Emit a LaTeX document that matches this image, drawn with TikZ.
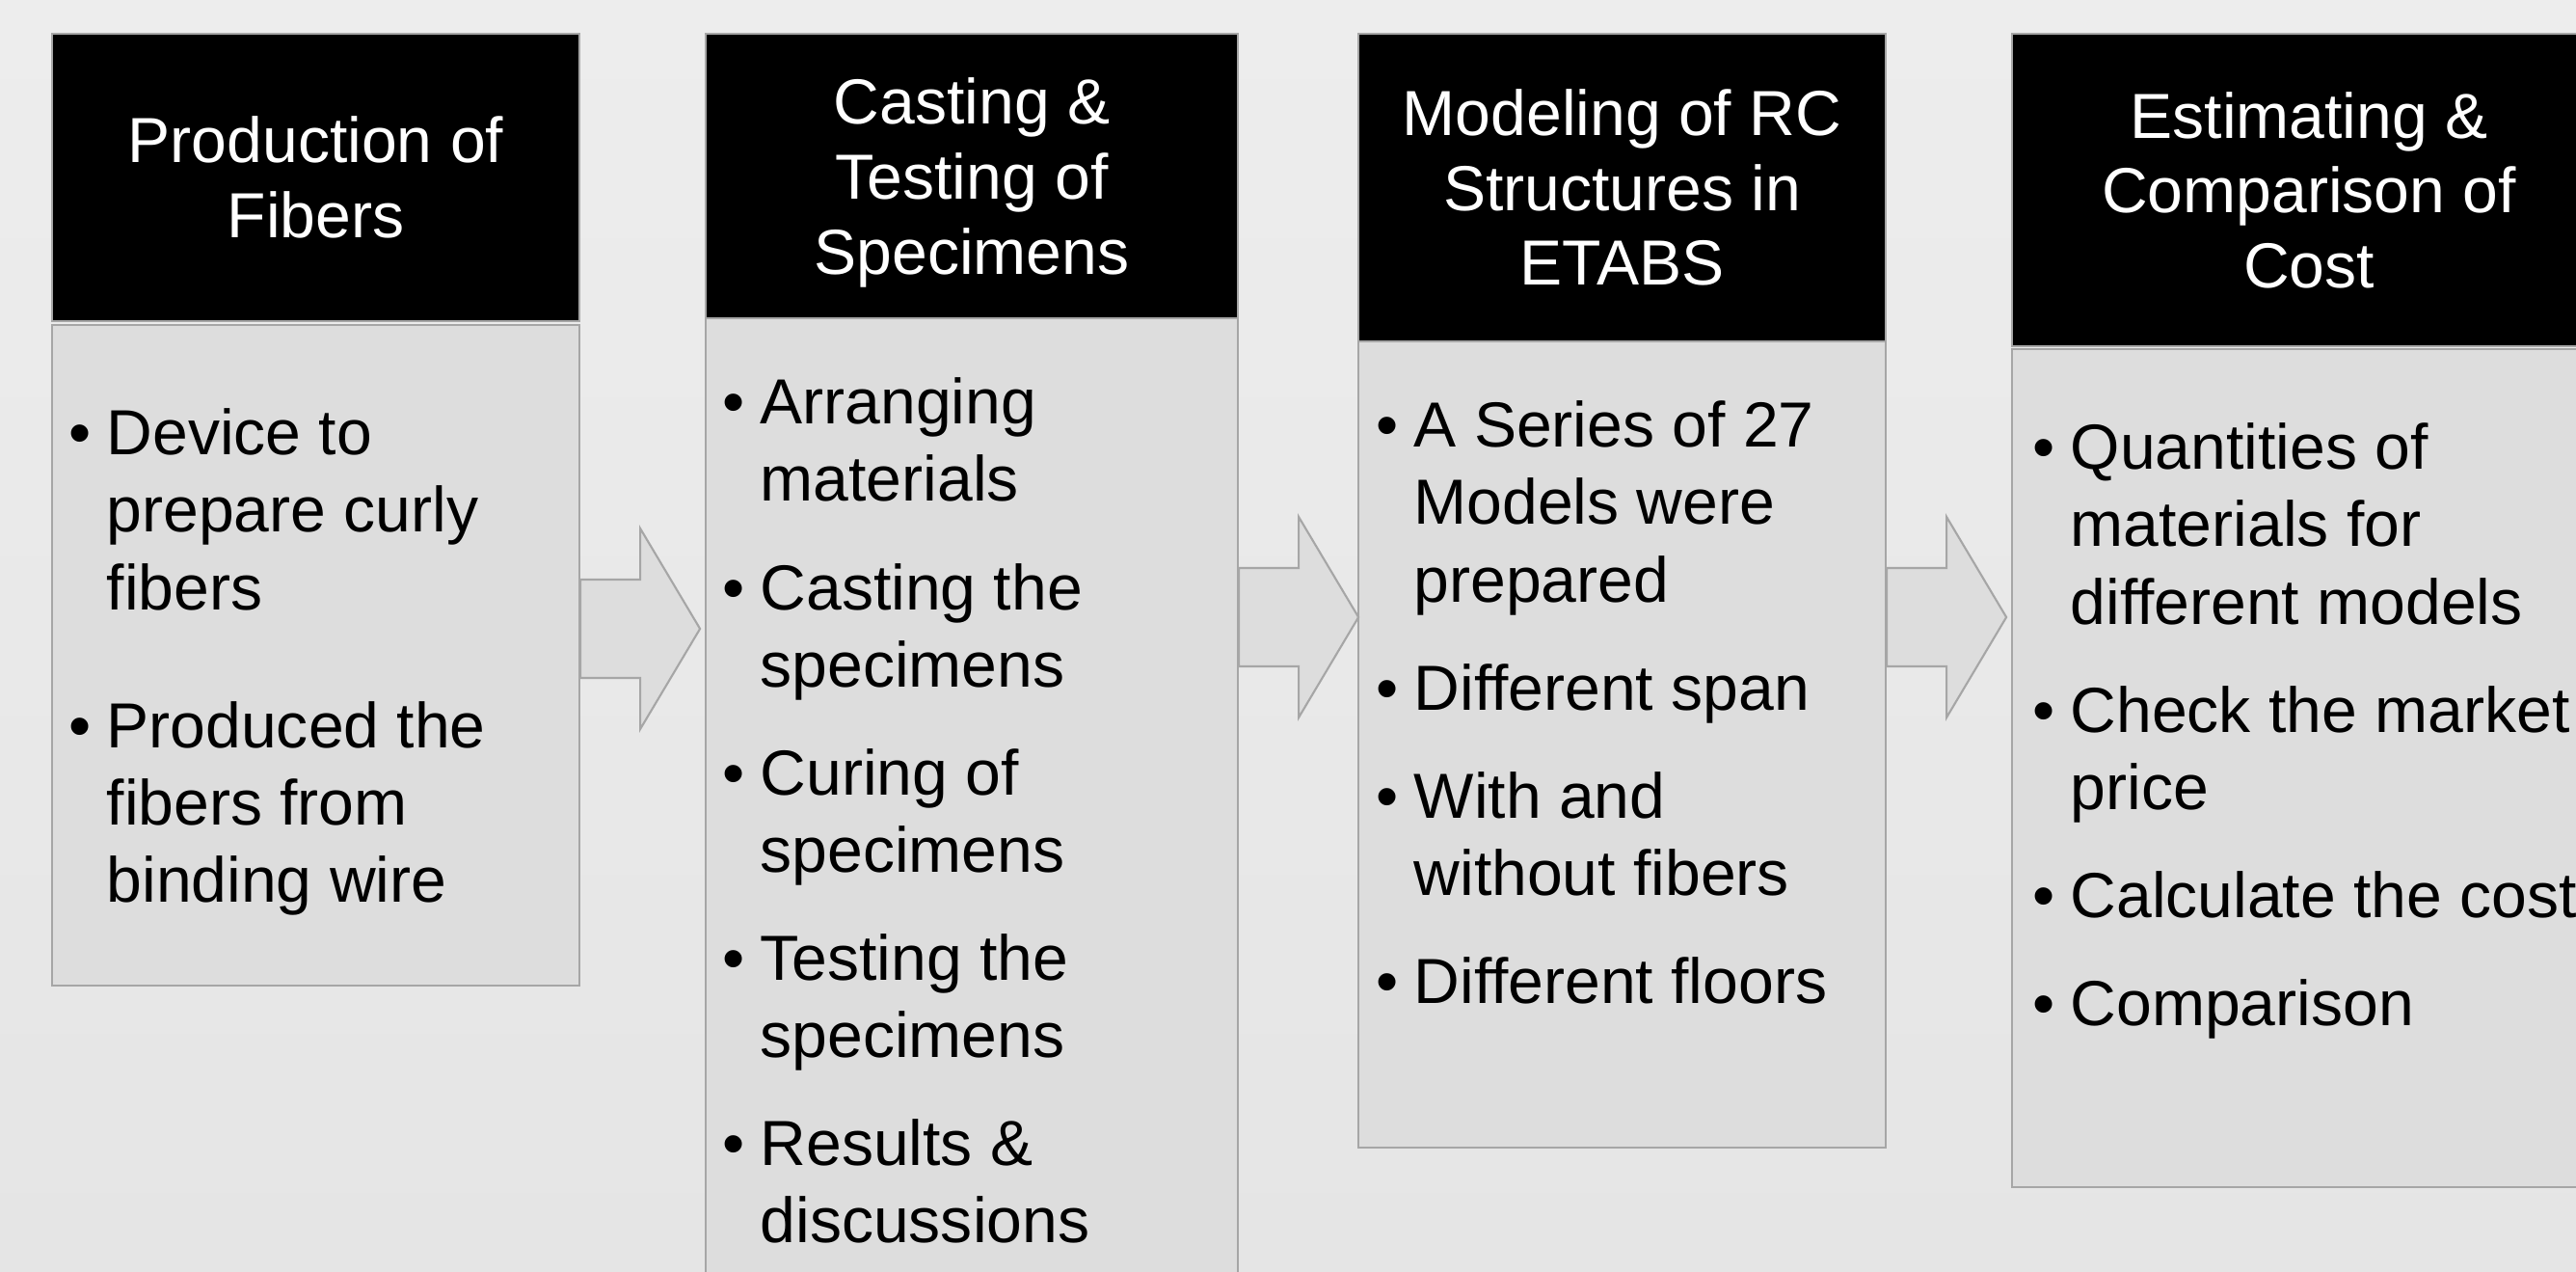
\documentclass[tikz,border=0pt]{standalone}
\usepackage{fontspec}
\setmainfont{Liberation Sans}
\usetikzlibrary{positioning,calc}
\definecolor{bgtop}{HTML}{EDEDED}
\definecolor{bgbot}{HTML}{E5E5E5}
\definecolor{panel}{HTML}{DDDDDD}
\definecolor{rim}{HTML}{A6A6A6}
\newlength\bulw \setlength\bulw{0.39cm}
\newcommand\bull{\textbullet}
\newenvironment{bullets}{\begin{tabular}{@{}p{\bulw}@{}l@{}}}{\end{tabular}}
\newcommand\flowarrow[2]{%
  \draw[flow] (#1.east |- 0,#2) ++(0,-0.51) -- ++(0.62,0) -- ++(0,-0.53) -- ++(0.62,1.04)
    -- ++(-0.62,1.04) -- ++(0,-0.53) -- ++(-0.62,0) -- cycle;}
\tikzset{
  head/.style={draw=rim,fill=black,text=white,align=center,anchor=north west,inner sep=0pt,line width=0.6pt,font=\fontsize{18.8}{22.1}\selectfont},
  body/.style={draw=rim,fill=panel,anchor=north west,inner sep=0pt,line width=0.6pt},
  items/.style={anchor=north west,inner sep=0pt,text=black,font=\fontsize{18.8}{22.8}\selectfont},
  flow/.style={draw=rim,fill=panel,line width=0.6pt,line join=miter},
}
\begin{document}
\begin{tikzpicture}[y=-1cm]
  \useasboundingbox (0,0) rectangle (26.72,13.19);
  \clip (0,0) rectangle (26.72,13.19);
  \shade[top color=bgtop,bottom color=bgbot] (0,0) rectangle (26.72,13.19);

  \node[head,minimum width=5.47cm,minimum height=2.98cm] (h1) at (0.53,0.34) {Production of\\Fibers};
  \node[body,minimum width=5.47cm,minimum height=6.85cm] (b1) at (0.53,3.36) {};
  \node[items,below right=0.79cm and 0.18cm of b1.north west] (l1) {\begin{bullets}
    \bull & Device to\\ & prepare curly\\ & fibers\\[0.63cm]
    \bull & Produced the\\ & fibers from\\ & binding wire
  \end{bullets}};

  \node[head,minimum width=5.52cm,minimum height=2.95cm] (h2) at (7.31,0.34) {Casting \&\\Testing of\\\raisebox{0pt}[\height][-0.06cm]{Specimens}};
  \node[body,minimum width=5.52cm,minimum height=10.2cm] (b2) at (7.31,3.29) {};
  \node[items,below right=0.54cm and 0.18cm of b2.north west] (l2) {\begin{bullets}
    \bull & Arranging\\ & materials\\[0.32cm]
    \bull & Casting the\\ & specimens\\[0.32cm]
    \bull & Curing of\\ & specimens\\[0.32cm]
    \bull & Testing the\\ & specimens\\[0.32cm]
    \bull & Results \&\\ & discussions
  \end{bullets}};

  \node[head,minimum width=5.47cm,minimum height=3.19cm] (h3) at (14.08,0.34) {Modeling of RC\\Structures in\\ETABS};
  \node[body,minimum width=5.47cm,minimum height=8.36cm] (b3) at (14.08,3.53) {};
  \node[items,below right=0.54cm and 0.19cm of b3.north west] (l3) {\begin{bullets}
    \bull & A Series of 27\\ & Models were\\ & prepared\\[0.32cm]
    \bull & Different span\\[0.32cm]
    \bull & With and\\ & without fibers\\[0.32cm]
    \bull & Different floors
  \end{bullets}};

  \node[head,minimum width=6.16cm,minimum height=3.24cm] (h4) at (20.86,0.34) {Estimating \&\\Comparison of\\Cost};
  \node[body,minimum width=6.16cm,minimum height=8.69cm] (b4) at (20.86,3.61) {};
  \node[items,below right=0.69cm and 0.22cm of b4.north west] (l4) {\begin{bullets}
    \bull & Quantities of\\ & materials for\\ & different models\\[0.32cm]
    \bull & Check the market\\ & price\\[0.32cm]
    \bull & Calculate the cost\\[0.32cm]
    \bull & Comparison
  \end{bullets}};

  \flowarrow{b1}{6.52}
  \flowarrow{b2}{6.40}
  \flowarrow{b3}{6.40}
\end{tikzpicture}
\end{document}
